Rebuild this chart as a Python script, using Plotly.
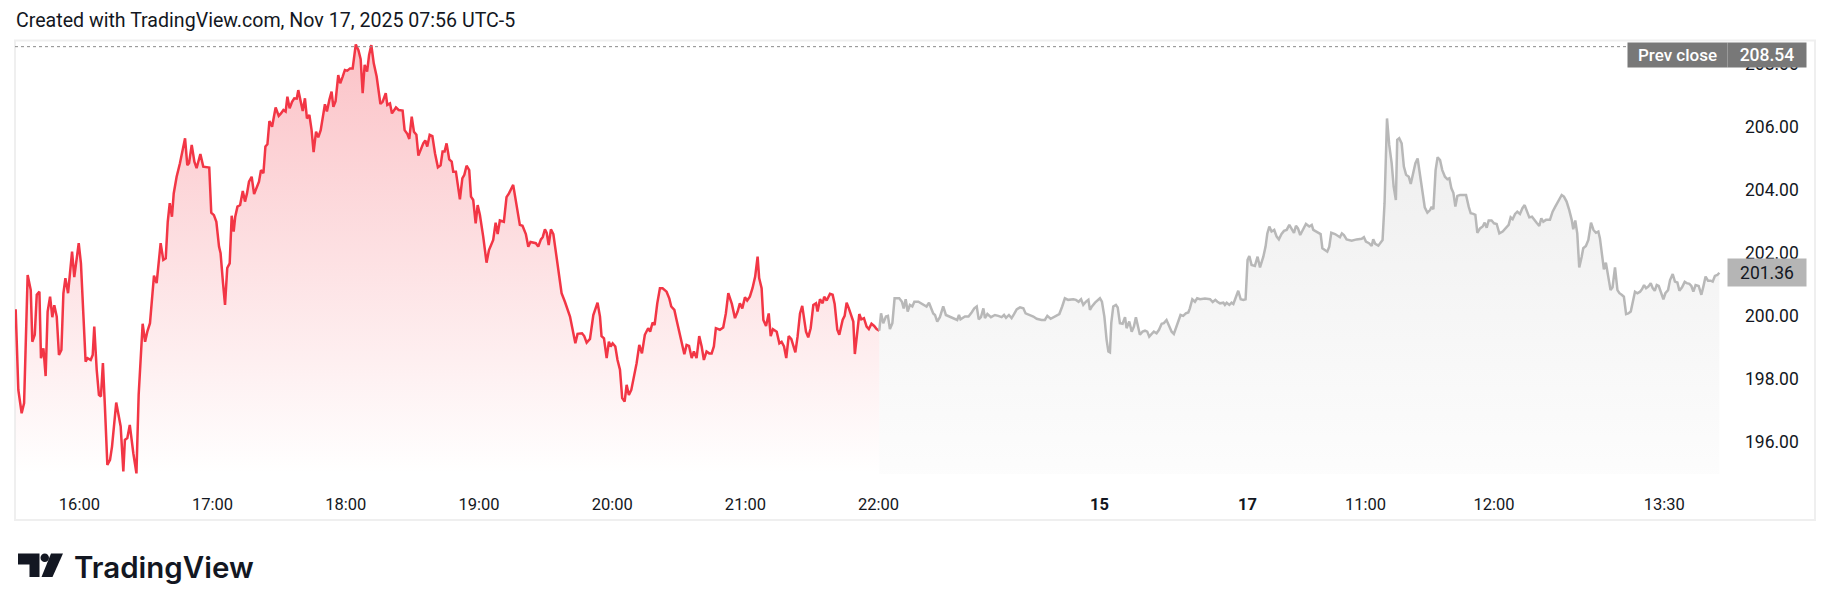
import plotly.graph_objects as go

# ---------------- data (bar index = position on TradingView's time scale) ----------------
red_idx = [
    0.3, 1.5, 3.0, 4.1, 5.7, 7.1, 7.8, 8.9, 9.8, 11.0,
    11.7, 12.8, 13.8, 14.7, 15.8, 16.8, 17.7, 18.8, 19.8, 20.9,
    21.8, 22.7, 23.9, 24.6, 25.7, 26.7, 28.7, 29.7, 31.8, 32.7,
    34.1, 35.0, 35.7, 36.8, 37.8, 38.7, 39.6, 40.5, 41.6, 42.8,
    43.7, 45.6, 47.6, 48.8, 49.5, 50.6, 51.7, 53.3, 54.7, 55.7,
    56.8, 57.5, 58.6, 59.6, 60.8, 61.6, 62.6, 63.8, 65.6, 66.8,
    67.9, 68.8, 69.7, 70.7, 71.5, 72.8, 74.3, 76.6, 77.6, 78.4,
    79.6, 80.8, 81.8, 83.5, 84.8, 87.5, 88.4, 89.6, 90.7, 91.9,
    92.6, 93.7, 94.6, 95.6, 96.7, 97.6, 98.5, 99.2, 100.2, 101.4,
    102.6, 103.6, 104.5, 105.4, 106.6, 107.7, 108.9, 109.9, 110.8, 111.9,
    112.8, 113.7, 114.6, 115.8, 117.4, 118.8, 119.8, 120.9, 121.9, 122.7,
    123.7, 124.8, 125.8, 126.9, 127.6, 128.7, 129.6, 130.6, 131.5, 132.6,
    133.6, 134.5, 135.6, 136.6, 137.7, 139.6, 140.5, 141.6, 142.6, 143.4,
    144.4, 145.6, 146.5, 147.6, 148.6, 149.7, 150.9, 152.1, 153.5, 154.7,
    155.7, 156.6, 157.5, 158.6, 159.5, 160.5, 161.6, 162.9, 164.6, 165.6,
    167.0, 167.7, 168.9, 169.8, 171.6, 172.8, 174.6, 175.5, 176.7, 177.6,
    178.7, 179.7, 180.8, 181.7, 182.7, 183.9, 184.8, 185.7, 186.8, 188.0,
    189.2, 190.5, 191.7, 192.6, 193.5, 194.4, 195.6,
    196.7, 197.4, 198.6, 200.4, 201.5, 202.4, 203.4, 204.6, 205.4, 206.4,
    207.5, 208.4, 209.4, 210.9, 212.4, 213.5, 215.4, 216.5, 217.4, 218.4,
    220.2, 221.4, 222.5, 224.4, 225.9, 227.4, 228.6, 230.1, 231.2, 232.2,
    234.6, 235.7, 236.9, 237.7, 238.7, 239.5, 240.4, 241.4, 242.5, 244.0,
    246.2, 247.7, 250.0, 252.4, 253.4, 255.4, 256.4, 257.5, 259.0, 260.5,
    262.4, 263.5, 264.2, 265.3, 266.5, 267.5, 268.3, 269.2, 270.4, 271.4,
    272.5, 273.5, 274.6, 275.5, 276.5, 277.6, 278.8, 280.0, 281.2, 282.4,
    283.7, 285.2, 286.1, 287.2, 288.1, 289.3, 290.5, 291.7, 293.5, 294.7,
    295.6, 297.0, 298.0, 299.2, 300.3, 301.5, 302.5, 303.6, 304.8, 305.8,
    307.0, 308.2, 309.3, 310.3, 311.5, 312.7, 313.8, 314.8, 315.7, 317.5,
    319.0, 320.2, 321.3, 322.9, 324.3, 325.5, 326.5, 327.6, 328.8, 329.8,
    331.0, 332.2, 333.4, 334.5, 335.2, 336.3, 337.1, 338.3, 339.5, 340.4,
    341.4, 343.1, 344.3, 345.3, 346.4, 347.4, 348.5, 349.7, 351.5, 352.5,
    353.6, 354.6, 356.3, 357.3, 358.4, 359.6, 360.8, 361.5, 362.6, 363.8,
    364.5, 365.6, 367.1, 368.3, 369.2, 370.4, 371.3, 372.8, 373.7, 374.6,
    375.6, 376.7, 377.6, 378.3, 379.2, 380.3, 381.2, 382.4, 383.6, 384.6,
    385.8, 387.0, 388.1, 389.3,
]
red_price = [
    200.20, 197.64, 196.90, 197.22, 201.29, 200.81, 199.17, 199.39, 200.66, 200.76,
    198.65, 198.96, 198.08, 200.13, 200.60, 199.95, 200.33, 199.97, 198.75, 198.91,
    200.71, 201.19, 200.71, 201.19, 202.03, 201.22, 202.30, 201.66, 198.54, 198.65,
    198.59, 198.75, 199.65, 198.28, 197.48, 197.43, 198.49, 197.11, 195.26, 195.42,
    195.84, 197.24, 196.48, 195.05, 196.05, 196.11, 196.53, 195.63, 194.99, 197.48,
    198.65, 199.74, 199.17, 199.49, 199.76, 200.39, 201.27, 201.03, 202.30, 201.77,
    201.82, 202.98, 203.57, 203.14, 203.88, 204.41, 204.84, 205.63, 204.78, 204.84,
    205.42, 204.89, 204.68, 205.13, 204.73, 204.70, 203.27, 203.19, 202.98, 202.19,
    201.98, 201.03, 200.34, 201.51, 201.66, 203.17, 202.67, 203.14, 203.46, 203.51,
    203.96, 203.62, 203.88, 204.25, 204.41, 203.86, 204.10, 204.25, 204.62, 204.52,
    205.37, 205.44, 206.18, 206.00, 206.61, 206.34, 206.42, 206.53, 206.48, 206.95,
    206.58, 206.79, 206.90, 206.89, 207.16, 206.85, 206.50, 206.90, 206.26, 206.37,
    205.89, 205.19, 205.84, 205.66, 205.89, 206.71, 206.48, 206.85, 207.11, 206.63,
    206.81, 207.64, 207.38, 207.59, 207.80, 207.78, 207.85, 207.85, 208.61, 208.43,
    208.14, 207.06, 207.96, 207.75, 208.28, 208.59, 208.01, 207.59, 206.72, 206.79,
    207.06, 206.69, 206.74, 206.42, 206.61, 206.53, 206.51, 205.89, 205.77, 205.61,
    206.32, 205.84, 205.74, 205.08, 205.26, 205.47, 205.56, 205.37, 205.74, 205.70,
    205.15, 204.71, 204.77, 205.21, 205.21, 205.47, 204.96,
    204.89, 204.57, 204.57, 203.69, 204.36, 204.47, 204.76, 204.62, 203.78, 203.67,
    202.93, 203.51, 203.20, 202.51, 201.68, 202.08, 202.40, 202.95, 202.59, 203.02,
    202.98, 203.76, 203.88, 204.15, 203.57, 202.88, 202.85, 202.59, 202.19, 202.34,
    202.30, 202.19, 202.42, 202.49, 202.74, 202.63, 202.24, 202.74, 202.59, 201.87,
    200.71, 200.44, 199.97, 199.12, 199.42, 199.44, 199.35, 199.14, 199.26, 200.02,
    200.41, 199.97, 199.35, 199.28, 198.65, 199.17, 199.02, 199.12, 199.02, 198.59,
    198.28, 197.38, 197.27, 197.80, 197.48, 197.64, 198.06, 198.49, 199.07, 198.80,
    199.39, 199.60, 199.49, 199.78, 199.70, 200.39, 200.87, 200.87, 200.76, 200.55,
    200.29, 200.18, 199.86, 199.51, 199.17, 198.77, 199.07, 199.04, 198.65, 198.86,
    198.65, 199.35, 199.02, 198.59, 198.86, 198.80, 198.80, 199.02, 199.60, 199.55,
    199.62, 200.07, 200.71, 200.37, 199.92, 200.13, 200.39, 200.23, 200.58, 200.48,
    200.60, 200.87, 201.24, 201.87, 201.19, 200.87, 199.86, 199.67, 200.07, 199.35,
    199.57, 199.49, 199.12, 199.17, 199.02, 198.65, 199.35, 199.25, 198.83, 199.33,
    200.07, 200.31, 199.49, 199.31, 199.60, 200.34, 200.39, 200.13, 200.52, 200.39,
    200.60, 200.48, 200.69, 200.66, 200.37, 199.55, 199.39, 199.86, 199.99, 200.41,
    200.23, 199.99, 199.81, 198.78, 199.44, 200.05, 199.88, 199.92, 199.65, 199.57,
    199.74, 199.67, 199.57, 199.52,
]
gray_idx = [
    389.3, 390.1, 391.1, 392.3, 393.2, 394.1, 395.2, 396.2, 398.3, 399.5,
    400.3, 401.2, 402.1, 403.1, 404.2, 405.1, 406.9, 409.1, 410.6, 411.7,
    412.7, 413.6, 414.4, 415.4, 416.6, 418.1, 419.3, 421.1, 422.6, 424.4,
    425.2, 425.9, 427.9, 429.5, 430.9, 432.1, 433.2, 434.1, 435.1, 436.2,
    436.9, 438.0, 439.6, 441.4, 442.9, 444.4, 445.5, 446.4, 447.7, 448.9,
    450.0, 451.2, 452.7, 454.2, 455.2, 457.2, 458.7, 460.2, 462.4, 463.9,
    465.0, 466.5, 468.4, 470.4, 471.7, 472.9, 474.4, 476.7, 477.9, 479.1,
    480.2, 481.2, 482.4, 483.5, 484.2, 485.1, 486.5, 487.5, 488.7, 489.6,
    490.7, 491.7, 492.5, 493.2, 493.8, 494.7, 495.9, 496.7, 497.7, 498.9,
    500.0, 500.7, 501.9, 503.0, 504.0, 504.9, 505.8, 506.7, 507.9, 509.0,
    510.0, 510.9, 512.0, 513.0, 514.2, 515.3, 516.5, 517.5, 518.7, 520.0,
    521.0, 522.0, 522.9, 524.0, 525.0, 526.2, 527.4, 528.5, 529.2, 530.3,
    531.5, 532.5, 533.8, 536.0, 538.3, 539.5, 540.7, 541.6, 542.8, 544.3,
    545.0, 545.8, 547.0, 548.0, 548.8, 550.0, 551.0, 552.1, 553.3, 554.3,
    555.2, 556.0, 557.0, 558.5, 559.7, 560.8, 562.3, 563.3, 564.1, 565.0,
    566.0, 567.2, 568.3, 569.3, 570.5, 571.6, 572.8, 574.0, 575.0, 576.1,
    577.0, 577.9, 578.9, 580.3, 581.5, 583.0,
    584.1, 584.8, 586.3, 588.1, 588.9, 590.1, 591.1, 592.0, 592.9, 594.6,
    596.1, 596.8, 597.7, 598.6, 599.8, 602.1, 604.3, 606.6, 607.6, 608.5,
    609.9, 611.1, 611.8, 612.7, 614.1, 615.1, 616.0, 616.9, 618.0, 619.0,
    620.1, 621.0, 622.0, 622.6, 623.5, 624.6, 625.6, 626.6, 627.8, 628.7,
    629.9, 630.8, 631.8, 633.2, 634.1, 635.0, 636.2, 637.4, 638.1, 638.9,
    639.9, 640.8, 641.9, 642.9, 644.1, 645.2, 646.1, 647.0, 647.9, 648.8,
    649.7, 650.9, 652.1, 653.6, 654.8, 655.7, 656.9, 657.8, 658.7, 659.9,
    661.1, 662.0, 662.9, 663.8, 665.1, 666.2, 667.4, 668.6, 670.1, 671.6,
    672.8, 673.7, 674.6, 675.7, 676.7, 677.9, 679.0, 680.0, 681.2, 682.1,
    683.3, 684.2, 685.4, 686.6, 687.5, 688.4, 689.6, 691.4, 692.6, 693.8,
    695.6, 696.7, 697.7, 698.9, 700.1, 701.2, 701.9, 702.8, 703.7, 704.6,
    705.7, 706.4, 707.6, 708.7, 709.9, 711.0, 712.1, 713.2, 713.9, 714.8,
    715.7, 716.6, 717.7, 718.7, 719.6, 720.7, 721.8, 722.7, 723.7, 724.7,
    725.7, 726.7, 727.8, 729.0, 729.7, 730.8, 732.0, 732.9, 733.8, 734.7,
    735.7, 736.8, 737.7, 738.6, 739.5, 740.4, 741.3, 742.5, 743.4, 744.6,
    745.5, 746.7, 747.7, 748.8, 749.7, 750.9, 752.1, 753.0, 754.2, 755.1,
    756.0, 757.0, 758.4, 759.6, 760.5, 761.5, 762.6, 763.8, 764.7, 765.7,
    766.8, 767.7,
]
gray_price = [
    199.52, 200.07, 199.76, 199.97, 199.99, 199.57, 199.76, 200.55, 200.55, 200.44,
    200.23, 200.52, 200.13, 200.34, 200.29, 200.44, 200.44, 200.34, 200.29, 200.41,
    200.23, 200.07, 200.02, 199.81, 199.95, 200.29, 200.02, 199.97, 199.92, 199.86,
    200.02, 199.88, 199.97, 199.97, 200.10, 200.23, 200.29, 199.88, 199.95, 200.23,
    199.92, 200.05, 199.95, 200.02, 199.99, 199.95, 200.02, 199.93, 200.02, 199.92,
    200.05, 200.20, 200.26, 200.23, 200.07, 200.02, 199.97, 199.90, 199.86, 199.86,
    199.99, 199.90, 199.97, 200.05, 200.29, 200.55, 200.50, 200.52, 200.50, 200.44,
    200.52, 200.34, 200.44, 200.50, 200.18, 200.29, 200.41, 200.48, 200.55, 200.44,
    199.97, 199.23, 198.86, 198.83, 199.76, 200.29, 200.34, 200.26, 199.76, 199.74,
    199.95, 199.60, 199.81, 199.49, 199.65, 199.95, 199.65, 199.39, 199.49, 199.52,
    199.49, 199.33, 199.42, 199.49, 199.44, 199.55, 199.74, 199.76, 199.86, 199.67,
    199.49, 199.42, 199.60, 199.78, 200.02, 199.99, 200.07, 200.10, 200.23, 200.52,
    200.44, 200.55, 200.52, 200.54, 200.52, 200.43, 200.50, 200.44, 200.39, 200.41,
    200.34, 200.41, 200.34, 200.41, 200.37, 200.60, 200.79, 200.52, 200.50, 200.52,
    201.77, 201.89, 201.61, 201.58, 201.87, 201.53, 201.87, 202.19, 202.61, 202.83,
    202.67, 202.72, 202.51, 202.42, 202.59, 202.69, 202.72, 202.88, 202.77, 202.63,
    202.85, 202.77, 202.56, 202.77, 202.91, 202.83,
    202.88, 202.72, 202.67, 202.59, 202.14, 202.08, 202.03, 202.19, 202.63, 202.59,
    202.51, 202.49, 202.61, 202.56, 202.42, 202.38, 202.42, 202.44, 202.49, 202.35,
    202.30, 202.21, 202.42, 202.28, 202.22, 202.32, 202.40, 203.57, 206.26, 205.42,
    204.84, 204.10, 203.67, 205.58, 205.63, 205.47, 204.73, 204.47, 204.41, 204.18,
    204.62, 204.84, 204.99, 204.31, 203.88, 203.44, 203.27, 203.35, 203.46, 203.38,
    204.62, 205.03, 204.94, 204.62, 204.41, 204.33, 204.36, 204.04, 203.90, 203.46,
    203.80, 203.83, 203.83, 203.83, 203.46, 203.25, 203.23, 203.20, 202.63, 202.77,
    202.83, 202.95, 202.79, 203.02, 203.02, 202.93, 202.91, 202.61, 202.67, 202.77,
    202.88, 203.12, 203.06, 203.23, 203.30, 203.23, 203.41, 203.51, 203.25, 203.12,
    203.14, 203.04, 202.95, 202.85, 203.09, 202.98, 203.04, 203.04, 203.30, 203.46,
    203.72, 203.83, 203.78, 203.62, 203.35, 203.04, 202.74, 203.02, 202.61, 201.53,
    201.87, 202.14, 202.21, 202.40, 202.95, 202.72, 202.63, 202.67, 202.46, 201.87,
    201.47, 201.68, 201.22, 200.81, 200.90, 201.53, 200.81, 200.71, 200.66, 200.60,
    200.05, 200.07, 200.13, 200.52, 200.76, 200.71, 200.76, 200.84, 200.97, 200.87,
    200.92, 201.03, 200.87, 200.79, 200.97, 200.94, 200.76, 200.52, 200.71, 200.81,
    201.13, 201.32, 201.08, 201.05, 200.79, 200.90, 201.07, 201.03, 201.01, 200.94,
    200.76, 200.97, 200.94, 200.66, 200.92, 201.24, 201.11, 201.11, 201.08, 201.26,
    201.29, 201.36,
]
assert len(red_idx) == len(red_price)
assert len(gray_idx) == len(gray_price)

prev_close = 208.54
last_price = gray_price[-1]

time_tick_idx = [29, 89, 149, 209, 269, 329, 389, 488.5, 555.2, 608.3, 666.2, 742.9]
time_tick_labels = ["16:00", "17:00", "18:00", "19:00", "20:00", "21:00", "22:00",
                    "<b>15</b>", "<b>17</b>", "11:00", "12:00", "13:30"]
price_ticks = [196, 198, 200, 202, 204, 206, 208]

title_text = "Created with TradingView.com, Nov 17, 2025 07:56 UTC-5"
brand_text = "TradingView"

# ---------------- layout geometry (pixels) ----------------
W, H = 1830, 611
L, R, T, B = 15, 1724, 41, 474
X_RANGE = [0, 769.8]
Y_RANGE = [194.97, 208.72]
FONT = "Roboto"
TXT = "#131722"


def px(x):
    return (x - L) / (R - L)


def py(y):
    return (B - y) / (B - T)


def path(points):
    return "M " + " L ".join(f"{px(x):.5f},{py(y):.5f}" for x, y in points) + " Z"


fig = go.Figure()

fig.add_trace(go.Scatter(
    x=red_idx, y=red_price, mode="lines",
    line=dict(color="#F23645", width=2.5),
    fill="tozeroy",
    fillgradient=dict(type="vertical",
                      colorscale=[[0, "rgba(242,54,69,0.0)"], [1, "rgba(242,54,69,0.30)"]],
                      start=Y_RANGE[0], stop=max(red_price)),
    hoverinfo="skip", showlegend=False,
))
fig.add_trace(go.Scatter(
    x=gray_idx, y=gray_price, mode="lines",
    line=dict(color="#B8B8B8", width=2.5),
    fill="tozeroy",
    fillgradient=dict(type="vertical",
                      colorscale=[[0, "rgba(170,170,170,0.03)"], [1, "rgba(170,170,170,0.20)"]],
                      start=Y_RANGE[0], stop=max(gray_price)),
    hoverinfo="skip", showlegend=False,
))

shapes = [
    # prev close dotted line
    dict(type="line", xref="paper", yref="y", x0=0, x1=1, y0=prev_close, y1=prev_close,
         line=dict(color="#8a8a8a", width=1, dash="dot"), layer="above"),
    # chart border
    dict(type="rect", xref="paper", yref="paper", x0=px(15), x1=px(1815), y0=py(520), y1=py(40.5),
         line=dict(color="#EFEFEF", width=2), fillcolor="rgba(0,0,0,0)", layer="below"),
    # logo: block
    dict(type="path", xref="paper", yref="paper",
         path=path([(18.0, 553.5), (39.5, 553.5), (39.5, 577.0), (29.5, 577.0), (29.5, 564.5), (18.0, 564.5)]),
         fillcolor="#131722", line=dict(width=0)),
    # logo: dot
    dict(type="circle", xref="paper", yref="paper",
         x0=px(40.5), x1=px(49.0), y0=py(562.0), y1=py(553.5),
         fillcolor="#131722", line=dict(width=0)),
    # logo: slash
    dict(type="path", xref="paper", yref="paper",
         path=path([(51.0, 553.5), (63.0, 553.5), (52.5, 577.0), (41.5, 577.0)]),
         fillcolor="#131722", line=dict(width=0)),
]

annotations = [
    dict(text=title_text, xref="paper", yref="paper", x=px(14), y=py(21),
         xanchor="left", yanchor="middle", showarrow=False,
         font=dict(family=FONT, size=19.6, color=TXT)),
    dict(text=brand_text, xref="paper", yref="paper", x=px(72), y=py(567),
         xanchor="left", yanchor="middle", showarrow=False,
         font=dict(family="Inter", size=29.5, color=TXT, weight=600)),
    # prev close tag
    dict(text="Prev close", xref="paper", yref="paper", x=px(1677.5), y=py(55),
         xanchor="center", yanchor="middle", showarrow=False, width=95, height=20,
         borderpad=2, bgcolor="#787878", font=dict(family=FONT, size=17, color="white", weight=500)),
    dict(text=f"{prev_close:.2f}", xref="paper", yref="paper", x=px(1767), y=py(55),
         xanchor="center", yanchor="middle", showarrow=False, width=74, height=20,
         borderpad=2, bgcolor="#787878", font=dict(family=FONT, size=17.5, color="white", weight=500)),
    # last price tag
    dict(text=f"{last_price:.2f}", xref="paper", yref="y", x=px(1767), y=last_price,
         xanchor="center", yanchor="middle", showarrow=False, width=74, height=23,
         borderpad=2, bgcolor="#B5B5B5", font=dict(family=FONT, size=17.5, color=TXT)),
]

fig.update_layout(
    width=W, height=H,
    margin=dict(l=L, r=W - R, t=T, b=H - B, pad=0),
    paper_bgcolor="white", plot_bgcolor="white",
    font=dict(family=FONT, color=TXT),
    shapes=shapes, annotations=annotations,
    showlegend=False,
    xaxis=dict(range=X_RANGE, showgrid=False, zeroline=False, showline=False,
               tickmode="array", tickvals=time_tick_idx, ticktext=time_tick_labels,
               ticks="", ticklabelstandoff=18, tickfont=dict(family=FONT, size=16.5, color=TXT),
               fixedrange=True),
    yaxis=dict(range=Y_RANGE, side="right", showgrid=False, zeroline=False, showline=False,
               tickmode="array", tickvals=price_ticks,
               ticktext=[f"{v:.2f}" for v in price_ticks],
               ticks="", ticklabelstandoff=20, tickfont=dict(family=FONT, size=17.5, color=TXT),
               fixedrange=True),
)

fig.write_html("out.html", config={"displayModeBar": False},
               post_script="document.body.style.margin='0px';")
